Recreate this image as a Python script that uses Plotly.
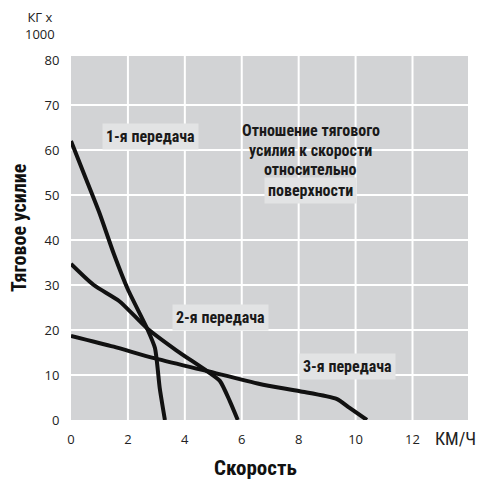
import plotly.graph_objects as go

# Data
gear1_x = [0, 0.5, 1.0, 1.5, 2.0, 2.67, 2.95, 3.12, 3.3]
gear1_y = [62, 54, 46, 37, 29, 20.4, 16, 7, 0]
gear2_x = [0, 0.8, 1.7, 2.67, 3.7, 4.77, 5.23, 5.58, 5.86]
gear2_y = [34.7, 30, 26.4, 20.4, 15.5, 10.9, 8.7, 4.2, 0]
gear3_x = [0, 1.5, 2.88, 4.77, 6.63, 8.04, 9.33, 9.79, 10.4]
gear3_y = [18.7, 16.3, 13.8, 10.9, 8.0, 6.4, 4.7, 2.7, 0]

x_ticks = [0, 2, 4, 6, 8, 10, 12]
y_ticks = [0, 10, 20, 30, 40, 50, 60, 70, 80]

FONT = "Roboto Condensed, DejaVu Sans Condensed, sans-serif"
TFONT = "Open Sans, sans-serif"
BG = "#d2d3d5"
BOX = "#e2e3e4"

fig = go.Figure()
for xs, ys in [(gear1_x, gear1_y), (gear2_x, gear2_y), (gear3_x, gear3_y)]:
    fig.add_trace(go.Scatter(x=xs, y=ys, mode="lines",
                             line=dict(color="#111111", width=4, shape="spline", smoothing=0.6),
                             showlegend=False, hoverinfo="skip"))

shapes = []
for v in [10, 20, 30, 40, 50, 60, 70]:
    shapes.append(dict(type="line", xref="paper", yref="y", x0=0, x1=1, y0=v, y1=v,
                       line=dict(color="white", width=2), layer="below"))
for v in [2, 4, 6, 8, 10, 12]:
    shapes.append(dict(type="line", xref="x", yref="paper", x0=v, x1=v, y0=0, y1=1,
                       line=dict(color="white", width=2), layer="below"))

ann = []
def lab(x, y, t, bg=None, size=16):
    d = dict(x=x, y=y, xref="x", yref="y", text=t, showarrow=False,
             font=dict(family=FONT, size=size, color="#1a1a1a", weight="bold"))
    if bg:
        d.update(bgcolor=bg, borderpad=3)
    ann.append(d)

lab(2.78, 63.0, "1-я передача", BOX)
lab(5.25, 22.7, "2-я передача", BOX)
lab(9.72, 11.8, "3-я передача", BOX)
lab(8.42, 64.3, "Отношение тягового")
lab(8.42, 60.0, "усилия к скорости")
lab(8.42, 55.6, "относительно")
lab(8.42, 50.9, "поверхности", BOX)

# plot area in screen pixels: x 71..468, y 56..420
def P(sx, sy):
    return (sx - 71) / 397, (420 - sy) / 364

px, py = P(40, 25)
ann.append(dict(x=px, y=py, xref="paper", yref="paper", text="КГ x<br>1000", showarrow=False,
                align="center", font=dict(family=TFONT, size=13, color="#222")))
px, py = P(478, 438)
ann.append(dict(x=px, y=py, xref="paper", yref="paper", text="КМ/Ч", showarrow=False,
                xanchor="right", xshift=0,
                font=dict(family="Roboto Condensed, sans-serif", size=18, color="#222")))
px, py = P(255, 468)
ann.append(dict(x=px, y=py, xref="paper", yref="paper", text="Скорость", showarrow=False,
                font=dict(family=FONT, size=21, color="#111", weight="bold")))
px, py = P(19, 228)
ann.append(dict(x=px, y=py, xref="paper", yref="paper", text="Тяговое усилие", showarrow=False,
                textangle=-90, font=dict(family=FONT, size=20, color="#111", weight="bold")))
for a in ann:
    a.setdefault("xanchor", "center")
    a.setdefault("yanchor", "middle")

# page body has an 8px margin, so the figure is shrunk and margins offset by 8px
fig.update_layout(
    width=479, height=472,
    margin=dict(l=63, r=19, t=48, b=60),
    paper_bgcolor="white", plot_bgcolor=BG,
    shapes=shapes, annotations=ann,
    font=dict(family=TFONT, size=13, color="#222222"),
)

fig.update_xaxes(range=[0, 13.95], tickvals=x_ticks, showgrid=False, zeroline=False,
                 showline=False, ticks="outside", ticklen=7, tickcolor="rgba(0,0,0,0)",
                 tickfont=dict(family=TFONT, size=13, color="#222"), fixedrange=True)
fig.update_yaxes(range=[0, 80.9], tickvals=y_ticks, showgrid=False, zeroline=False,
                 showline=False, ticks="outside", ticklen=8, tickcolor="rgba(0,0,0,0)",
                 tickfont=dict(family=TFONT, size=13, color="#222"), fixedrange=True)

fig.write_html("out.html")
